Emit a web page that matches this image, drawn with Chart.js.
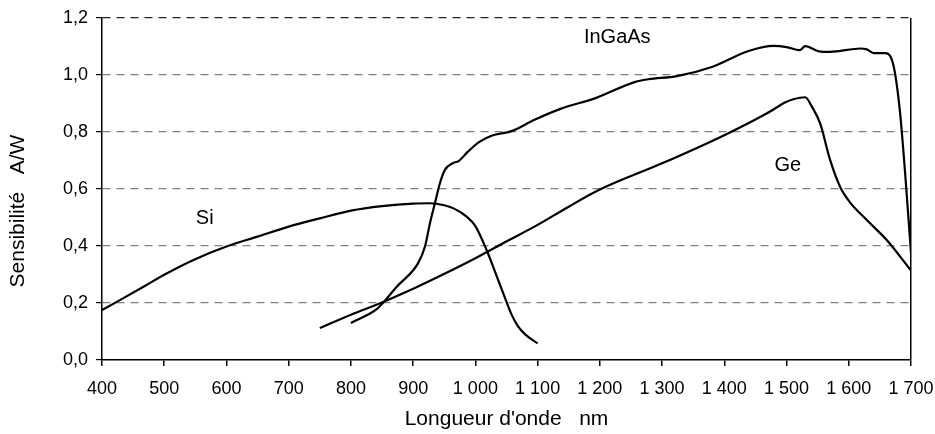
<!DOCTYPE html>
<html lang="fr">
<head>
    <meta charset="UTF-8">
    <title>Sensibilité des photodiodes</title>
    <script src="https://cdn.jsdelivr.net/npm/chart.js"></script>
    <style>
        html, body { margin: 0; padding: 0; background: #fff; }
        #wrap { width: 935px; height: 434px; }
    </style>
</head>
<body>
    <div id="wrap"><canvas id="sensChart"></canvas></div>

    <script>
        // Si
        const siNm  = [400, 418, 466, 500, 547, 600, 650, 700, 750, 800, 850, 900, 927, 950, 965, 986, 1000, 1018, 1035, 1048, 1058, 1068, 1080, 1100];
        const siVal = [0.175, 0.197, 0.256, 0.299, 0.351, 0.398, 0.433, 0.468, 0.497, 0.524, 0.540, 0.549, 0.550, 0.543, 0.532, 0.503, 0.470, 0.386, 0.290, 0.215, 0.160, 0.120, 0.090, 0.058];

        // Ge
        const geNm  = [750, 800, 851, 900, 947, 1000, 1049, 1100, 1150, 1200, 1300, 1400, 1468, 1500, 1511, 1530, 1541, 1554, 1570, 1586, 1601, 1629, 1661, 1700];
        const geVal = [0.112, 0.159, 0.203, 0.250, 0.299, 0.357, 0.415, 0.474, 0.538, 0.598, 0.690, 0.789, 0.865, 0.906, 0.915, 0.922, 0.888, 0.830, 0.702, 0.608, 0.556, 0.491, 0.421, 0.314];

        // InGaAs
        const ingaasNm  = [800, 842, 852, 874, 908, 919, 927, 935, 943, 951, 965, 973, 988, 1007, 1026, 1058, 1096, 1139, 1192, 1257, 1278, 1324, 1380, 1439, 1479, 1500, 1521, 1530, 1552, 1570, 1619, 1629, 1640, 1659, 1672, 1682, 1691, 1700];
        const ingaasVal = [0.130, 0.179, 0.202, 0.258, 0.340, 0.398, 0.480, 0.550, 0.620, 0.667, 0.692, 0.698, 0.731, 0.766, 0.787, 0.803, 0.844, 0.883, 0.918, 0.976, 0.985, 0.996, 1.028, 1.084, 1.102, 1.098, 1.087, 1.101, 1.083, 1.081, 1.093, 1.090, 1.077, 1.077, 1.032, 0.877, 0.643, 0.375];

        // curve names and where they sit (nm, A/W)
        const curveNames = ["Si", "InGaAs", "Ge"];
        const nameNm     = [565, 1228, 1502];
        const nameVal    = [0.495, 1.132, 0.681];

        const xTitle = "Longueur d'onde   nm";
        const yTitle = "Sensibilité   A/W";

        const FONT = "'Liberation Sans', Arial, sans-serif";

        const toPoints = (xs, ys) => xs.map((x, i) => ({ x: x, y: ys[i] }));

        const line = (label, xs, ys) => ({
            label: label,
            data: toPoints(xs, ys),
            borderColor: "#000",
            borderWidth: 2.2,
            pointRadius: 0,
            fill: false,
            cubicInterpolationMode: "monotone"
        });

        // y title and curve names drawn on the canvas
        const textPlugin = {
            id: "texts",
            afterDraw(chart) {
                const ctx = chart.ctx;
                const xs = chart.scales.x, ys = chart.scales.y;
                ctx.save();
                ctx.fillStyle = "#000";
                ctx.font = "20px " + FONT;
                ctx.textAlign = "center";
                ctx.textBaseline = "middle";
                curveNames.forEach((n, i) => {
                    ctx.fillText(n, xs.getPixelForValue(nameNm[i]), ys.getPixelForValue(nameVal[i]));
                });
                ctx.font = "21px " + FONT;
                ctx.translate(18, 211);
                ctx.rotate(-Math.PI / 2);
                ctx.fillText(yTitle, 0, 0);
                ctx.restore();
            }
        };

        new Chart(document.getElementById("sensChart").getContext("2d"), {
            type: "line",
            data: {
                datasets: [
                    line("Si", siNm, siVal),
                    line("InGaAs", ingaasNm, ingaasVal),
                    line("Ge", geNm, geVal)
                ]
            },
            options: {
                responsive: true,
                maintainAspectRatio: false,
                animation: false,
                layout: { padding: { top: 18, right: 24, left: 0, bottom: 0 } },
                plugins: {
                    legend: { display: false },
                    tooltip: { enabled: false }
                },
                scales: {
                    x: {
                        type: "linear",
                        min: 400,
                        max: 1700,
                        afterFit: s => { s.height = 74; s.paddingLeft = 0; s.paddingRight = 0; },
                        ticks: {
                            stepSize: 100,
                            color: "#000",
                            padding: 12,
                            maxRotation: 0,
                            font: { family: FONT, size: 18 },
                            callback: v => String(v).replace(/\B(?=(\d{3})+$)/g, " ")
                        },
                        grid: {
                            color: c => c.tick && c.tick.value === 1700 ? "#000" : "rgba(0,0,0,0)",
                            tickColor: "#000",
                            tickLength: 6,
                            lineWidth: 1.5
                        },
                        border: { color: "#000", width: 1.5 },
                        title: {
                            display: true,
                            text: xTitle,
                            color: "#000",
                            font: { family: FONT, size: 21 },
                            padding: { top: 0, bottom: 2 }
                        }
                    },
                    y: {
                        min: 0,
                        max: 1.2,
                        afterFit: s => { s.width = 102; s.paddingTop = 0; s.paddingBottom = 0; },
                        ticks: {
                            stepSize: 0.2,
                            color: "#000",
                            padding: 8,
                            font: { family: FONT, size: 18 },
                            callback: v => v.toFixed(1).replace(".", ",")
                        },
                        grid: {
                            color: c => {
                                if (!c.tick) return "#808080";
                                if (c.tick.value === 0) return "rgba(0,0,0,0)";
                                return c.tick.value > 1.1 ? "#222" : "#808080";
                            },
                            tickColor: "#000",
                            tickLength: 6,
                            lineWidth: 1.2
                        },
                        border: { color: "#000", width: 1.5, dash: [8, 6] }
                    }
                }
            },
            plugins: [textPlugin]
        });
    </script>
</body>
</html>
